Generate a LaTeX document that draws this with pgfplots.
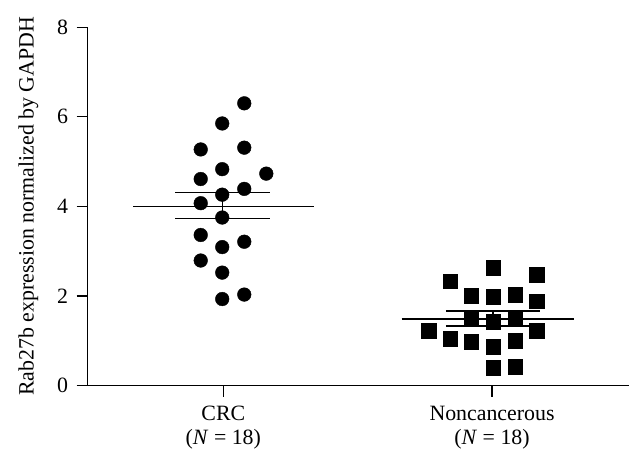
\documentclass[border=0pt]{standalone}
\usepackage{fontspec}
\setmainfont{Liberation Serif}
\usepackage{pgfplots}
\pgfplotsset{compat=1.18}
\begin{document}
\fontsize{21.8}{24}\selectfont
\begin{tikzpicture}
\begin{axis}[
  x=267bp, y=44.5bp,
  xmin=0.495, xmax=2.51, ymin=0, ymax=8,
  axis lines*=left,
  axis line style={line width=1.3bp},
  tick style={line width=1.3bp, black},
  tick align=outside,
  major tick length=11bp,
  ytick={0,2,4,6,8},
  xtick={1,2},
  xticklabels={CRC\\(\textit{N} = 18), Noncancerous\\(\textit{N} = 18)},
  xticklabel style={align=center, font=\fontsize{21.8}{24}\selectfont, yshift=-2bp},
  yticklabel style={font=\fontsize{21.8}{24}\selectfont, xshift=-1bp},
  /pgf/number format/assume math mode=true,
  ylabel={Rab27b expression normalized by GAPDH},
  ylabel style={font=\fontsize{21.8}{24}\selectfont, yshift=4bp},
  clip=false,
]
\addplot[only marks, mark=*, mark size=6.8bp, black] coordinates {
(1.078,6.30) (0.996,5.85) (0.916,5.27) (1.078,5.31) (0.996,4.83) (1.160,4.73)
(0.916,4.61) (1.078,4.39) (0.996,4.26) (0.916,4.07) (0.996,3.75) (0.916,3.36)
(0.996,3.09) (1.078,3.21) (0.916,2.79) (0.996,2.52) (0.996,1.93) (1.078,2.03)
};
\addplot[only marks, mark=square*, mark size=7.3bp, black] coordinates {
(2.004,2.63) (1.844,2.33) (2.166,2.47) (1.923,2.00) (2.004,1.98) (2.086,2.03)
(2.166,1.88) (1.923,1.48) (2.004,1.43) (2.086,1.48) (1.764,1.23) (1.844,1.04)
(1.923,0.98) (2.004,0.87) (2.086,1.00) (2.166,1.23) (2.004,0.40) (2.086,0.42)
};
% CRC mean and SEM
\addplot[black, line width=1.6bp] coordinates {(0.664,4.00) (1.338,4.00)};
\addplot[black, line width=1.6bp] coordinates {(0.821,4.31) (1.173,4.31)};
\addplot[black, line width=1.6bp] coordinates {(0.821,3.73) (1.173,3.73)};
\addplot[black, line width=1.6bp] coordinates {(0.997,3.73) (0.997,4.31)};
% Noncancerous mean and SEM
\addplot[black, line width=1.6bp] coordinates {(1.664,1.49) (2.304,1.49)};
\addplot[black, line width=1.6bp] coordinates {(1.828,1.66) (2.180,1.66)};
\addplot[black, line width=1.6bp] coordinates {(1.828,1.33) (2.180,1.33)};
\addplot[black, line width=1.6bp] coordinates {(2.004,1.33) (2.004,1.66)};
\path (axis cs:0.169,-1.73) rectangle (axis cs:2.547,8.607);
\end{axis}
\end{tikzpicture}
\end{document}
